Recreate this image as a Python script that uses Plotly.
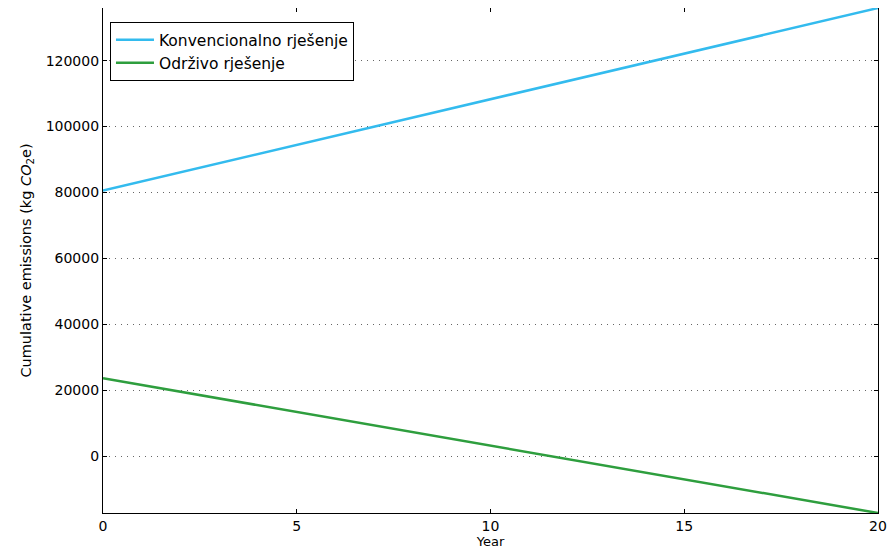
import plotly.graph_objects as go

years = [0, 10, 20]
konvencionalno = [80600, 108400, 136000]
odrzivo = [23600, 3100, -17300]
series_names = ["Konvencionalno rješenje", "Održivo rješenje"]
x_ticks = [0, 5, 10, 15, 20]
y_ticks = [0, 20000, 40000, 60000, 80000, 100000, 120000]

fig = go.Figure()
fig.add_trace(go.Scatter(x=years, y=konvencionalno, mode="lines", name=series_names[0],
                         line=dict(color="#33bbee", width=2.5)))
fig.add_trace(go.Scatter(x=years, y=odrzivo, mode="lines", name=series_names[1],
                         line=dict(color="#2e9e3e", width=2.5)))

axis_common = dict(showline=True, linecolor="black", linewidth=1.2, mirror="ticks",
                   ticks="inside", ticklen=4, tickcolor="black", zeroline=False,
                   automargin=False,
                   tickfont=dict(family="DejaVu Sans", size=14, color="black"))
fig.update_xaxes(range=[0, 20], tickvals=x_ticks, showgrid=False,
                 title=dict(text="Year", font=dict(family="DejaVu Sans", size=13, color="black"), standoff=0),
                 **axis_common)
fig.update_yaxes(range=[min(odrzivo), max(konvencionalno)], tickvals=y_ticks,
                 tickformat="d",
                 showgrid=True, gridcolor="#666666", griddash="1px,5px", gridwidth=1,
                 title=dict(text="Cumulative emissions (kg <i>CO</i><sub>2</sub>e)",
                            font=dict(family="DejaVu Sans", size=14.5, color="black"), standoff=10),
                 **axis_common)
fig.update_layout(width=887, height=542, margin=dict(l=95, r=17, t=0, b=37),
                  plot_bgcolor="white", paper_bgcolor="white",
                  font=dict(family="DejaVu Sans", size=13, color="black"),
                  legend=dict(x=0.009, y=0.972, xanchor="left", yanchor="top",
                              bgcolor="white", bordercolor="black", borderwidth=1,
                              itemwidth=38,
                              font=dict(family="DejaVu Sans", size=15.5, color="black")))
fig.write_html("out.html")
